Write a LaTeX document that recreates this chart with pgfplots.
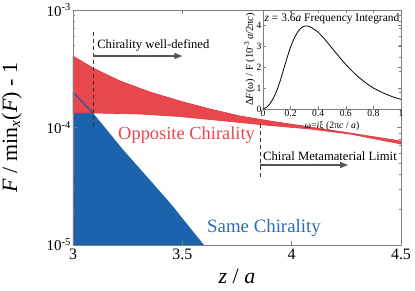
\documentclass[border=0pt]{standalone}
\usepackage{pgfplots}
\pgfplotsset{compat=1.18}
\usepackage{fontspec}
\setmainfont{Liberation Serif}
\usetikzlibrary{arrows.meta}
\definecolor{cred}{HTML}{E9474E}
\definecolor{credl}{HTML}{E5333C}
\definecolor{cblue}{HTML}{1B63AC}
\definecolor{cbluel}{HTML}{1A5CA3}
\definecolor{cbluet}{HTML}{2C6DB3}
\definecolor{carrow}{HTML}{555555}
\definecolor{cdash}{HTML}{333333}
\definecolor{caxis}{HTML}{808080}
\begin{document}
\begin{tikzpicture}
\begin{axis}[
  at={(0,0)}, anchor=south west, scale only axis,
  width=328bp, height=235bp,
  ymode=log, xmin=3, xmax=4.5, ymin=1e-5, ymax=1e-3,
  axis on top,
  xtick={3,3.5,4,4.5}, xticklabels={3,3.5,4,4.5},
  ytick={1e-5,1e-4,1e-3},
  yticklabels={10\textsuperscript{-5},10\textsuperscript{-4},10\textsuperscript{-3}},
  minor ytick={2e-5,3e-5,4e-5,5e-5,6e-5,7e-5,8e-5,9e-5,2e-4,3e-4,4e-4,5e-4,6e-4,7e-4,8e-4,9e-4},
  axis line style={caxis, line width=0.6bp},
  tick style={caxis, line width=0.5bp},
  major tick length=4bp, minor tick length=2.5bp,
  xticklabel style={font=\fontsize{16}{16}\selectfont},
  yticklabel style={font=\fontsize{15}{15}\selectfont, inner sep=2bp},
  xlabel={\textit{z} / \textit{a}},
  ylabel={\textit{F} / min\textsubscript{\textit{x}}(\textit{F}) - 1},
  xlabel style={font=\fontsize{22}{22}\selectfont, at={(axis description cs:0.5,-0.1617)}, anchor=base},
  ylabel style={font=\fontsize{22}{22}\selectfont, at={(axis description cs:-0.1707,0.5)}, anchor=base},
]
% same chirality (blue) region
\addplot[fill=cblue, draw=none] coordinates {
  (3.0,1e-5) (3.0,2.0e-4) (3.0928,1.32e-4) (3.23,6.44e-5) (3.352,3.57e-5)
  (3.444,2.28e-5) (3.581,1.10e-5) (3.599,1.0e-5) (3.62,9.1e-6) (3.62,1e-5)
} -- cycle;
% opposite chirality (red) band
\addplot[fill=cred, draw=credl, line width=0.6bp] coordinates {
  (3.0,4.06e-4) (3.0915,3.21e-4) (3.215,2.49e-4) (3.352,2.005e-4) (3.489,1.681e-4)
  (3.6265,1.437e-4) (3.764,1.253e-4) (3.901,1.136e-4) (4.084,1.010e-4) (4.267,8.98e-5)
  (4.5,7.67e-5)
  (4.5,7.24e-5) (4.267,8.80e-5) (4.084,9.71e-5) (3.901,1.040e-4) (3.718,1.125e-4)
  (3.489,1.240e-4) (3.306,1.303e-4) (3.0915,1.329e-4) (3.0,1.329e-4)
} -- cycle;
% blue line over red
\addplot[cbluel, line width=1.2bp] coordinates {(3.0,2.0e-4) (3.0928,1.32e-4)};
% dashed markers
\addplot[cdash, line width=0.9bp, dash pattern=on 4bp off 3bp] coordinates {(3.0915,6.5e-4) (3.0915,9.9e-5)};
\addplot[cdash, line width=0.9bp, dash pattern=on 4bp off 3bp] coordinates {(3.855,1.07e-4) (3.855,3.72e-5)};
% arrows
\addplot[carrow, line width=1.3bp, -{Triangle[length=8bp,width=6bp]}] coordinates {(3.0915,4.06e-4) (3.5,4.06e-4)};
\addplot[carrow, line width=1.3bp, -{Triangle[length=8bp,width=6bp]}] coordinates {(3.855,4.8e-5) (4.258,4.8e-5)};
% annotations
\node[anchor=base west, inner sep=0, font=\fontsize{12.7}{12.7}\selectfont] at (axis cs:3.11,4.66e-4) {Chirality well-defined};
\node[anchor=base west, inner sep=0, font=\fontsize{12.7}{12.7}\selectfont] at (axis cs:3.869,5.28e-5) {Chiral Metamaterial Limit};
\node[anchor=base west, inner sep=0, text=cred, font=\fontsize{18.5}{18.5}\selectfont] at (axis cs:3.206,7.98e-5) {Opposite Chirality};
\node[anchor=base west, inner sep=0, text=cbluet, font=\fontsize{18.9}{18.9}\selectfont] at (axis cs:3.613,1.27e-5) {Same Chirality};
\end{axis}
% inset
\begin{axis}[
  at={(190bp,136bp)}, anchor=south west, scale only axis,
  width=138bp, height=99bp,
  xmin=0, xmax=1, ymin=0, ymax=4.714,
  xtick={0,0.2,0.4,0.6,0.8,1}, xticklabels={0,0.2,0.4,0.6,0.8,1},
  ytick={0,1,2,3,4}, yticklabels={0,1,2,3,4},
  axis line style={caxis, line width=0.6bp},
  tick style={caxis, line width=0.5bp},
  major tick length=3bp,
  xticklabel style={font=\fontsize{9.6}{9.6}\selectfont, inner sep=1bp},
  yticklabel style={font=\fontsize{9.6}{9.6}\selectfont, inner sep=1.5bp},
  xlabel={ω=\textit{i}ξ (2π\textit{c} / \textit{a})},
  ylabel={Δ\textit{F}(ω) / F (10\textsuperscript{-3}\,\textit{a}/2π\textit{c})},
  xlabel style={font=\fontsize{9.8}{9.8}\selectfont, at={(axis description cs:0.5,-0.192)}, anchor=base},
  ylabel style={font=\fontsize{10.5}{10.5}\selectfont, at={(axis description cs:-0.0725,0.5)}, anchor=base},
]
\addplot[black, line width=0.8bp, smooth] coordinates {
  (0,0) (0.025,0.08) (0.05,0.25) (0.075,0.52) (0.1,0.88) (0.125,1.35) (0.15,1.9)
  (0.175,2.45) (0.2,2.95) (0.225,3.35) (0.25,3.65) (0.275,3.85) (0.3,3.95) (0.325,3.95)
  (0.35,3.88) (0.4,3.65) (0.45,3.3) (0.5,2.9) (0.55,2.5) (0.6,2.12) (0.65,1.78)
  (0.7,1.48) (0.75,1.22) (0.8,1.0) (0.85,0.83) (0.9,0.68) (0.95,0.56) (1.0,0.46)
};
\node[anchor=base, inner sep=0, font=\fontsize{11.5}{11.5}\selectfont] at (axis description cs:0.5,0.882) {\textit{z} = 3.6\textit{a} Frequency Integrand};
\end{axis}
\pgfresetboundingbox
\path[use as bounding box] (-73bp,-46bp) rectangle (342bp,245bp);
\end{tikzpicture}
\end{document}
